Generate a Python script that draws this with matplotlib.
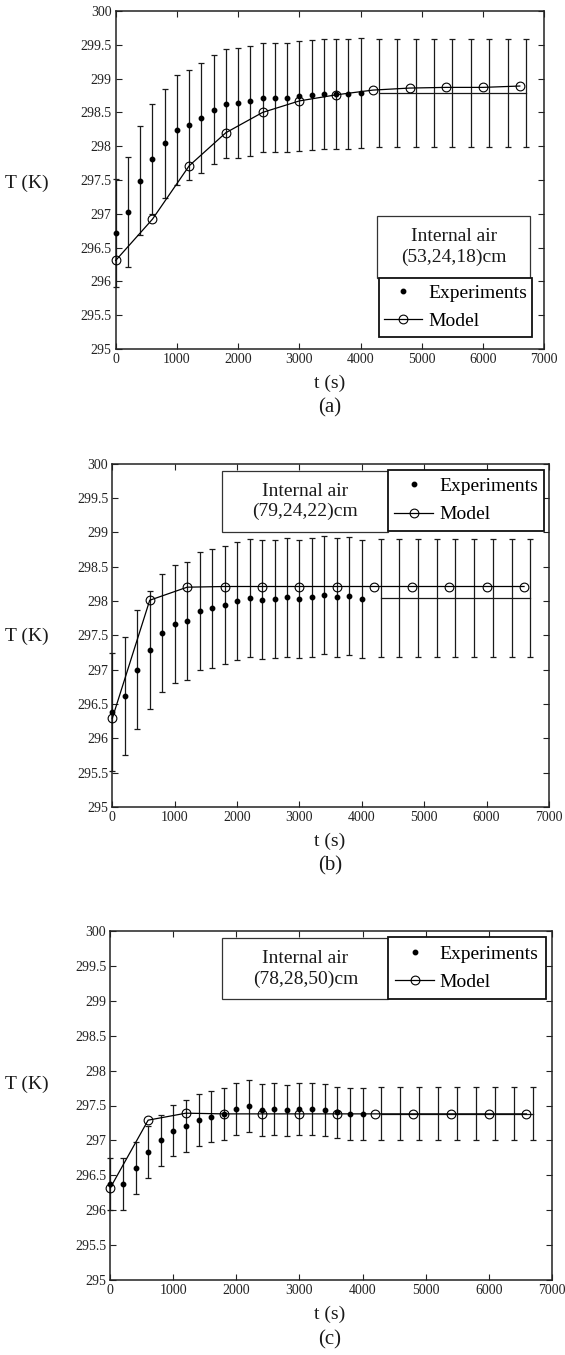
import matplotlib
matplotlib.use("Agg")
import matplotlib.pyplot as plt
from matplotlib.lines import Line2D
from matplotlib.patches import Rectangle
from matplotlib.ticker import FuncFormatter

plt.rcParams['font.family'] = ['Liberation Serif', 'DejaVu Serif']
plt.rcParams['mathtext.fontset'] = 'stix'

# ---------------- data ----------------
t_exp = [0, 200, 400, 600, 800, 1000, 1200, 1400, 1600, 1800, 2000,
         2200, 2400, 2600, 2800, 3000, 3200, 3400, 3600, 3800, 4000]
t_mod = [0, 600, 1200, 1800, 2400, 3000, 3600, 4200, 4800, 5400, 6000, 6600]
t_ext = [4300, 4600, 4900, 5200, 5500, 5800, 6100, 6400, 6700]

exp_a = [296.71, 297.03, 297.49, 297.81, 298.04, 298.24, 298.31, 298.42, 298.54, 298.63, 298.64,
         298.67, 298.72, 298.72, 298.72, 298.74, 298.76, 298.77, 298.77, 298.77, 298.79]
err_a = [0.80, 0.81, 0.81, 0.81, 0.81, 0.81, 0.81, 0.81, 0.81, 0.81, 0.81,
         0.81, 0.81, 0.81, 0.81, 0.81, 0.81, 0.81, 0.81, 0.81, 0.81]
mod_a = [296.31, 296.92, 297.71, 298.20, 298.50, 298.67, 298.76, 298.83, 298.86, 298.87, 298.87, 298.89]
ext_a = [298.79, 298.79, 298.79, 298.79, 298.79, 298.79, 298.79, 298.79, 298.79]
ext_err_a = [0.80, 0.80, 0.80, 0.80, 0.80, 0.80, 0.80, 0.80, 0.80]

exp_b = [296.38, 296.62, 297.00, 297.29, 297.53, 297.67, 297.71, 297.85, 297.89, 297.94, 298.00,
         298.04, 298.02, 298.03, 298.05, 298.03, 298.05, 298.09, 298.05, 298.07, 298.03]
err_b = [0.86, 0.86, 0.87, 0.86, 0.86, 0.86, 0.86, 0.86, 0.86, 0.86, 0.86,
         0.86, 0.86, 0.86, 0.86, 0.86, 0.86, 0.86, 0.86, 0.86, 0.86]
mod_b = [296.29, 298.01, 298.20, 298.21, 298.21, 298.21, 298.21, 298.21, 298.21, 298.21, 298.21, 298.21]
ext_b = [298.04, 298.04, 298.04, 298.04, 298.04, 298.04, 298.04, 298.04, 298.04]
ext_err_b = [0.86, 0.86, 0.86, 0.86, 0.86, 0.86, 0.86, 0.86, 0.86]

exp_c = [296.38, 296.38, 296.60, 296.83, 297.00, 297.14, 297.21, 297.29, 297.34, 297.38, 297.45,
         297.49, 297.44, 297.45, 297.43, 297.45, 297.45, 297.44, 297.40, 297.38, 297.38]
err_c = [0.37, 0.37, 0.37, 0.37, 0.37, 0.37, 0.37, 0.37, 0.37, 0.37, 0.37,
         0.37, 0.37, 0.37, 0.37, 0.37, 0.37, 0.37, 0.37, 0.37, 0.37]
mod_c = [296.32, 297.29, 297.39, 297.38, 297.38, 297.38, 297.38, 297.38, 297.38, 297.38, 297.38, 297.38]
ext_c = [297.38, 297.38, 297.38, 297.38, 297.38, 297.38, 297.38, 297.38, 297.38]
ext_err_c = [0.38, 0.38, 0.38, 0.38, 0.38, 0.38, 0.38, 0.38, 0.38]

titles = ["Internal air\n(53,24,18)cm", "Internal air\n(79,24,22)cm", "Internal air\n(78,28,50)cm"]
panel_labels = ["(a)", "(b)", "(c)"]
x_ticks = [0, 1000, 2000, 3000, 4000, 5000, 6000, 7000]
y_ticks = [295, 295.5, 296, 296.5, 297, 297.5, 298, 298.5, 299, 299.5, 300]

# ---------------- layout ----------------
W, H = 565, 1355
fig = plt.figure(figsize=(W / 100, H / 100), dpi=100)

# pixel boxes: (left, right, top, bottom)
ax_px = [(115.7, 544.3, 11, 349), (112.3, 549.0, 463.6, 806.9), (110.3, 551.7, 931, 1280)]
# text box & legend box in axes fractions (x0, x1, y0, y1)
tbox = [(0.610, 0.967, 0.211, 0.394), (0.251, 0.631, 0.802, 0.978), (0.254, 0.630, 0.805, 0.979)]
lbox = [(0.614, 0.971, 0.036, 0.211), (0.632, 0.988, 0.804, 0.981), (0.630, 0.986, 0.805, 0.982)]
ylab_y = [183, 636, 1084]
xlab_y = [383, 841, 1314]
plab_y = [408, 866, 1340]

datasets = [(exp_a, err_a, mod_a, ext_a, ext_err_a),
            (exp_b, err_b, mod_b, ext_b, ext_err_b),
            (exp_c, err_c, mod_c, ext_c, ext_err_c)]

fmt = FuncFormatter(lambda v, p: "%g" % v)

for i, (ex, er, mo, ext, exterr) in enumerate(datasets):
    l, r, t, b = ax_px[i]
    ax = fig.add_axes([l / W, 1 - b / H, (r - l) / W, (b - t) / H])
    ax.set_xlim(0, 7000)
    ax.set_ylim(295, 300)

    ax.errorbar(t_exp, ex, yerr=er, fmt='o', color='black', ms=3.2, ecolor='#1a1a1a',
                elinewidth=0.9, capsize=2.2, capthick=0.9, zorder=3, clip_on=False)
    ax.errorbar(t_ext, ext, yerr=exterr, fmt='-', color='#1a1a1a', lw=0.9, ecolor='#1a1a1a',
                elinewidth=0.9, capsize=2.2, capthick=0.9, zorder=2)
    ax.plot(t_mod, mo, '-', color='black', lw=0.9, marker='o', ms=6.3,
            mfc='none', mec='black', mew=0.8, zorder=4, clip_on=False)

    ax.set_xticks(x_ticks)
    ax.set_yticks(y_ticks)
    ax.yaxis.set_major_formatter(fmt)
    ax.tick_params(direction='in', length=4, width=0.8, top=True, right=True,
                   labelsize=10, pad=3, colors='#222222', labelcolor='#222222')
    for s in ax.spines.values():
        s.set_linewidth(1.1)
        s.set_color('#222222')

    # text box
    x0, x1, y0, y1 = tbox[i]
    ax.add_patch(Rectangle((x0, y0), x1 - x0, y1 - y0, transform=ax.transAxes,
                           fill=True, facecolor='white', edgecolor='#333333', lw=0.9, zorder=6))
    ax.text((x0 + x1) / 2, (y0 + y1) / 2, titles[i], transform=ax.transAxes,
            ha='center', va='center', fontsize=14, linespacing=1.25, color='#1a1a1a', zorder=7)

    # legend box
    x0, x1, y0, y1 = lbox[i]
    ax.add_patch(Rectangle((x0, y0), x1 - x0, y1 - y0, transform=ax.transAxes,
                           fill=True, facecolor='white', edgecolor='#111111', lw=1.3, zorder=6))
    handles = [Line2D([], [], ls='none', marker='o', ms=3.2, color='black'),
               Line2D([], [], ls='-', lw=0.9, color='black', marker='o', ms=6.3,
                      mfc='none', mec='black', mew=0.8)]
    leg = ax.legend(handles, ["Experiments", "Model"], loc='center',
                    bbox_to_anchor=((x0 + x1) / 2, (y0 + y1) / 2), bbox_transform=ax.transAxes,
                    frameon=False, fontsize=14, handlelength=2.0, handletextpad=0.3,
                    labelspacing=0.55, borderpad=0.2)
    leg.set_zorder(8)

    fig.text(5 / W, 1 - ylab_y[i] / H, "T (K)", ha='left', va='center', fontsize=14, color='#1a1a1a')
    fig.text(330 / W, 1 - xlab_y[i] / H, "t (s)", ha='center', va='center', fontsize=14, color='#1a1a1a')
    fig.text(330 / W, 1 - plab_y[i] / H, panel_labels[i], ha='center', va='center', fontsize=15, color='#1a1a1a')

fig.savefig("out.png", dpi=100, facecolor='white')
